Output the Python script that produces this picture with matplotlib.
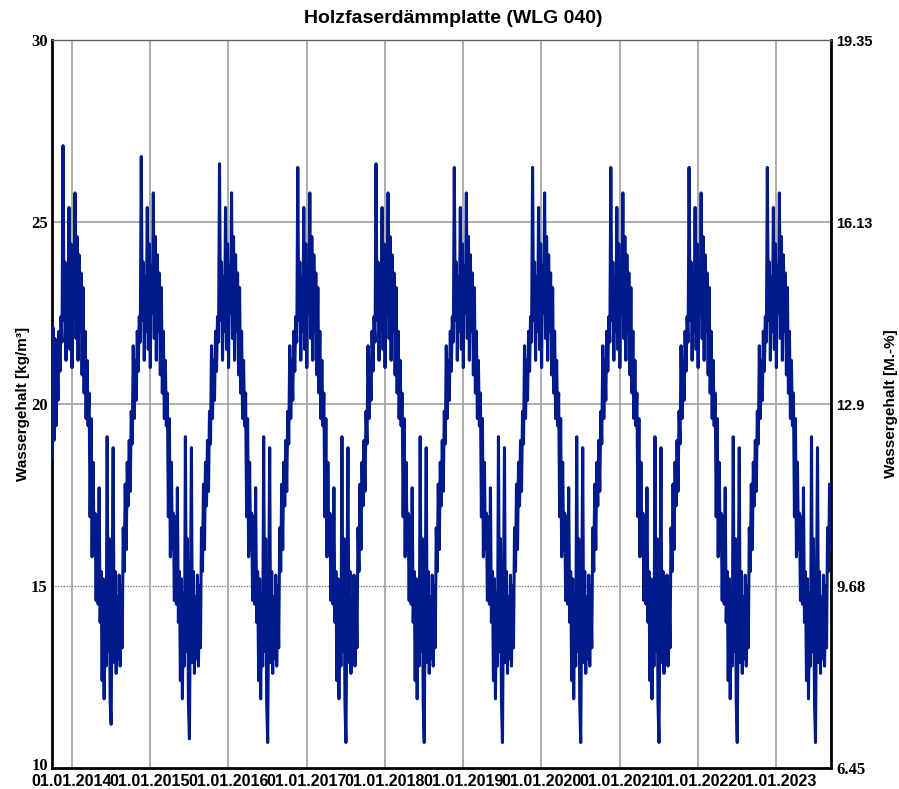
import datetime as dt

import matplotlib
matplotlib.use("Agg")
import matplotlib.dates as mdates
import matplotlib.pyplot as plt
from matplotlib.transforms import ScaledTranslation

# one seasonal cycle, 1.10. -> 30.9., ~4.7 days per sample
season = [
    17.6, 19.8, 18.9, 21.6, 19.6, 21.2, 20.1, 22.0, 20.9, 22.4,
    21.7, 26.6, 22.3, 23.9, 21.2, 23.5, 22.0, 25.4, 21.5, 24.4,
    21.0, 23.8, 22.5, 25.8, 21.8, 24.6, 21.2, 24.1, 22.0, 23.6,
    20.8, 23.2, 20.3, 22.0, 19.6, 21.2, 19.4, 20.3, 16.9, 19.6,
    15.8, 18.4, 16.0, 17.0, 14.6, 16.9, 14.5, 17.7, 14.0, 15.4,
    12.4, 15.2, 11.9, 14.8, 12.8, 19.1, 13.2, 16.3, 11.8, 10.7,
    14.9, 18.8, 12.9, 15.4, 12.6, 14.7, 13.0, 15.3, 12.8, 15.0,
    13.3, 16.6, 15.4, 17.8, 16.0, 18.4, 17.2, 19.0,
]
# winter peak and summer low per season (2013/14 ... 2022/23)
peaks = [27.1, 26.8, 26.6, 26.5, 26.6, 26.5, 26.5, 26.5, 26.5, 26.5]
lows = [11.2, 10.8, 10.7, 10.7, 10.7, 10.7, 10.7, 10.7, 10.7, 10.7]
# first weeks of the simulation start a bit lower
first_weeks = [18.5, 22.1, 19.0, 21.8, 19.4, 21.6]
n_samples = 9 * 78 + 75

left_ticks = [10, 15, 20, 25, 30]
right_labels = ["6.45", "9.68", "12.9", "16.13", "19.35"]

values = []
for k in range(len(peaks)):
    cyc = list(season)
    cyc[11] = peaks[k]
    cyc[59] = lows[k]
    values += cyc
values[:len(first_weeks)] = first_weeks
values = values[:n_samples]

start = dt.datetime(2013, 9, 30)
step = 365.25 / 78
dates = [start + dt.timedelta(days=i * step) for i in range(len(values))]

fig = plt.figure(figsize=(8.99, 7.89), dpi=100)
ax = fig.add_axes([0.0578, 0.0266, 0.8666, 0.9227])

ax.plot(dates, values, color="#001a8c", lw=2.2, zorder=3)

ax.set_xlim(dt.datetime(2013, 9, 30), dt.datetime(2023, 9, 14))
ax.set_ylim(10, 30)

ax.xaxis.set_major_locator(mdates.YearLocator())
ax.xaxis.set_major_formatter(mdates.DateFormatter("%d.%m.%Y"))
ax.set_yticks(left_ticks)

ax.grid(axis="x", color="#a0a0a0", lw=1.2)
for v in [20, 25]:
    ax.axhline(v, color="#a0a0a0", lw=1.2, zorder=1)
ax.axhline(15, color="#808080", lw=1.0, ls=(0, (1, 1)), zorder=1)

ax.tick_params(axis="x", length=0, pad=4)
ax.tick_params(axis="y", length=0, pad=3)
for lab in ax.get_xticklabels():
    lab.set_fontfamily("Liberation Sans")
    lab.set_fontweight("bold")
    lab.set_fontsize(11.5)
for lab in ax.get_yticklabels():
    lab.set_fontfamily("Liberation Serif")
    lab.set_fontweight("bold")
    lab.set_fontsize(12)
    if lab.get_text() == "10":
        # sits just above the date labels
        lab.set_transform(lab.get_transform()
                          + ScaledTranslation(0, 3 / 72, fig.dpi_scale_trans))

for side in ["left", "bottom", "right"]:
    ax.spines[side].set_linewidth(2)
    ax.spines[side].set_color("black")
ax.spines["top"].set_linewidth(1)
ax.spines["top"].set_color("#606060")

ax2 = ax.twinx()
ax2.set_ylim(10, 30)
ax2.set_yticks(left_ticks)
ax2.set_yticklabels(right_labels)
ax2.tick_params(length=0, pad=4)
for lab in ax2.get_yticklabels():
    if lab.get_text() in ("9.68", "6.45"):
        lab.set_fontfamily("Liberation Serif")
        lab.set_fontsize(12)
    else:
        lab.set_fontfamily("Liberation Sans")
        lab.set_fontsize(10.5)
    lab.set_fontweight("bold")
for s in ax2.spines.values():
    s.set_visible(False)

ax.set_ylabel("Wassergehalt [kg/m³]", fontfamily="Liberation Sans",
              fontweight="bold", fontsize=11, labelpad=1)
ax2.set_ylabel("Wassergehalt [M.-%]", fontfamily="Liberation Sans",
               fontweight="bold", fontsize=11, rotation=90, labelpad=8)
fig.text(0.504, 0.977, "Holzfaserdämmplatte (WLG 040)", ha="center", va="center",
         fontfamily="Liberation Sans", fontweight="bold", fontsize=14)

fig.savefig("out.png", dpi=100)
